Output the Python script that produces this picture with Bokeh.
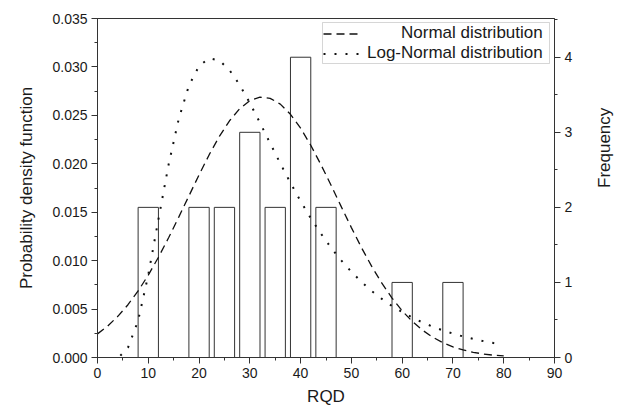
import math
from bokeh.plotting import figure
from bokeh.models import (Range1d, LinearAxis, SingleIntervalTicker, NumeralTickFormatter,
                          Legend, LegendItem, BoxAnnotation)
from bokeh.embed import file_html
from bokeh.resources import INLINE

# Histogram (frequency, right axis)
rqd_bins = [10, 20, 25, 30, 35, 40, 45, 60, 70]
frequency = [2, 2, 2, 3, 2, 4, 2, 1, 1]
bin_width = 4

# Fitted normal distribution (pdf, left axis)
normal_x = [0, 2, 4, 6, 8, 10, 12, 14, 16, 18, 20, 22, 24, 26, 28, 30, 32, 34, 36, 38, 40,
            42, 44, 46, 48, 50, 52, 54, 56, 58, 60, 62, 64, 66, 68, 70, 72, 74, 76, 78, 80]
normal_pdf = [0.00244, 0.00325, 0.00425, 0.00545, 0.00687, 0.00851, 0.01035, 0.01236, 0.01449,
              0.01668, 0.01886, 0.02094, 0.02283, 0.02444, 0.02569, 0.02652, 0.02688, 0.02676,
              0.02616, 0.02511, 0.02367, 0.02191, 0.01991, 0.01778, 0.01558, 0.01341, 0.01133,
              0.00941, 0.00767, 0.00614, 0.00482, 0.00372, 0.00282, 0.00210, 0.00153, 0.00110,
              0.00078, 0.00054, 0.00036, 0.00024, 0.00016]

# Fitted log-normal distribution (pdf, left axis)
lognormal_x = [4.5, 6, 8, 10, 12, 14, 16, 18, 20, 22, 24, 26, 28, 30, 32, 34, 36, 38, 40, 42,
               44, 46, 48, 50, 52, 54, 56, 58, 60, 62, 64, 66, 68, 70, 72, 74, 76, 78, 79]
lognormal_pdf = [0.00019, 0.00101, 0.00381, 0.00853, 0.01427, 0.01991, 0.02464, 0.02807,
                 0.03010, 0.03090, 0.03067, 0.02967, 0.02815, 0.02628, 0.02423, 0.02212,
                 0.02004, 0.01803, 0.01614, 0.01439, 0.01279, 0.01133, 0.01002, 0.00885,
                 0.00780, 0.00687, 0.00605, 0.00532, 0.00469, 0.00412, 0.00362, 0.00319,
                 0.00280, 0.00247, 0.00217, 0.00192, 0.00169, 0.00149, 0.00140]

FONT = "Liberation Sans"
AX = "#333333"
TXT = "#1a1a1a"

p = figure(width=626, height=410, output_backend="svg", toolbar_location=None,
           x_range=Range1d(0, 90), y_range=Range1d(0, 0.0350001),
           min_border_left=97, min_border_right=69, min_border_top=18, min_border_bottom=53,
           x_axis_location=None, y_axis_location=None)
p.extra_y_ranges = {"freq": Range1d(0, 4.516)}
p.xgrid.visible = False
p.ygrid.visible = False
p.outline_line_color = AX
p.outline_line_width = 1
p.background_fill_color = "white"
p.border_fill_color = "white"


def style(ax, label_standoff):
    ax.axis_line_color = AX
    ax.major_tick_line_color = AX
    ax.minor_tick_line_color = AX
    ax.major_tick_in = 0
    ax.major_tick_out = 6
    ax.minor_tick_in = 0
    ax.minor_tick_out = 3
    ax.major_label_standoff = 4
    ax.major_label_text_font = FONT
    ax.major_label_text_font_size = "14px"
    ax.major_label_text_color = TXT
    ax.axis_label_text_font = FONT
    ax.axis_label_text_font_size = "17px"
    ax.axis_label_text_font_style = "normal"
    ax.axis_label_text_color = TXT
    ax.axis_label_standoff = label_standoff


xaxis = LinearAxis(axis_label="RQD", ticker=SingleIntervalTicker(interval=10, num_minor_ticks=2))
style(xaxis, 6)
p.add_layout(xaxis, "below")

yaxis = LinearAxis(axis_label="Probability density function",
                   ticker=SingleIntervalTicker(interval=0.005, num_minor_ticks=2),
                   formatter=NumeralTickFormatter(format="0.000"))
style(yaxis, 13)
p.add_layout(yaxis, "left")

raxis = LinearAxis(y_range_name="freq", axis_label="Frequency",
                   ticker=SingleIntervalTicker(interval=1, num_minor_ticks=2))
style(raxis, 29)
raxis.axis_label_orientation = math.pi / 2
p.add_layout(raxis, "right")

p.vbar(x=rqd_bins, top=frequency, width=bin_width, bottom=0, y_range_name="freq",
       fill_color="white", line_color="#333333", line_width=1)

r_norm = p.line(normal_x, normal_pdf, line_color="#111111", line_width=1.3, line_dash="8 5")
r_logn = p.line(lognormal_x, lognormal_pdf, line_color="#111111", line_width=2, line_dash="2 9")

# Legend: glyphs on the left, labels right-aligned against the box's right edge
legend_box = BoxAnnotation(left=225, right=452, top=335, bottom=294,
                           left_units="screen", right_units="screen",
                           top_units="screen", bottom_units="screen",
                           fill_alpha=0, line_color="#777777", line_width=1)
p.add_layout(legend_box)

common = dict(padding=0, spacing=0, glyph_width=38, glyph_height=17, label_height=17,
              border_line_color=None, background_fill_alpha=0,
              label_text_font=FONT, label_text_font_size="17px", label_text_color=TXT)
legend_n = Legend(items=[LegendItem(label="Normal distribution", renderers=[r_norm])],
                  location=(226, 314), label_standoff=40, **common)
legend_l = Legend(items=[LegendItem(label="Log-Normal distribution", renderers=[r_logn])],
                  location=(226, 294), label_standoff=6, **common)
p.add_layout(legend_n, "center")
p.add_layout(legend_l, "center")

open("out.html", "w").write(file_html(p, INLINE))
